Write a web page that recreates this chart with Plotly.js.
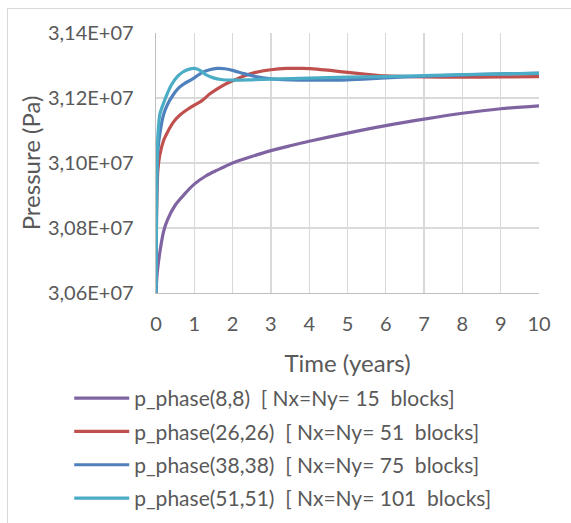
<!DOCTYPE html>
<html>
<head>
<meta charset="utf-8">
<script src="https://cdn.plot.ly/plotly-3.0.1.min.js"></script>
<style>
  html, body { margin: 0; padding: 0; background: #ffffff; }
  #frame { position: absolute; left: 7px; top: 8px; width: 600px; height: 600px; border: 1px solid #d9d9d9; }
  #chart { position: absolute; left: 0; top: 0; width: 571px; height: 523px; }
</style>
</head>
<body>
<div id="frame"></div>
<div id="chart"></div>
<script>
// Time (years) and pressure (Pa) samples
const tPurple = [0, 0.03, 0.1, 0.2, 0.3, 0.5, 0.75, 1.0, 1.3, 1.6, 2.0, 2.5, 3.0, 3.5, 4, 5, 6, 7, 8, 9, 10];
const pPurple = [3.0600e7, 3.0660e7, 3.0725e7, 3.0790e7, 3.0825e7, 3.0870e7, 3.0905e7, 3.0935e7, 3.0960e7, 3.0978e7, 3.1000e7, 3.1020e7, 3.1038e7, 3.1053e7, 3.1067e7, 3.1092e7, 3.1115e7, 3.1135e7, 3.1153e7, 3.1167e7, 3.1176e7];

const tRed = [0, 0.02, 0.05, 0.1, 0.2, 0.3, 0.45, 0.6, 0.8, 1.0, 1.2, 1.4, 1.6, 1.8, 2.0, 2.3, 2.6, 3.0, 3.4, 3.8, 4.2, 4.6, 5, 5.5, 6, 7, 8, 9, 10];
const pRed = [3.0600e7, 3.0880e7, 3.0980e7, 3.1025e7, 3.1070e7, 3.1095e7, 3.1125e7, 3.1145e7, 3.1163e7, 3.1178e7, 3.1192e7, 3.1212e7, 3.1228e7, 3.1242e7, 3.1253e7, 3.1268e7, 3.1279e7, 3.1287e7, 3.1291e7, 3.1291e7, 3.1289e7, 3.1284e7, 3.1279e7, 3.1273e7, 3.1268e7, 3.1265e7, 3.1264e7, 3.1265e7, 3.1266e7];

const tBlue = [0, 0.02, 0.05, 0.1, 0.2, 0.3, 0.45, 0.6, 0.75, 0.9, 1.0, 1.2, 1.4, 1.6, 1.8, 2.0, 2.3, 2.6, 3.0, 3.5, 4, 5, 6, 7, 8, 9, 10];
const pBlue = [3.0600e7, 3.0920e7, 3.1040e7, 3.1090e7, 3.1150e7, 3.1180e7, 3.1210e7, 3.1232e7, 3.1245e7, 3.1255e7, 3.1262e7, 3.1278e7, 3.1287e7, 3.1291e7, 3.1290e7, 3.1285e7, 3.1275e7, 3.1266e7, 3.1259e7, 3.1256e7, 3.1255e7, 3.1256e7, 3.1262e7, 3.1267e7, 3.1271e7, 3.1274e7, 3.1277e7];

const tCyan = [0, 0.02, 0.05, 0.1, 0.2, 0.3, 0.4, 0.55, 0.7, 0.85, 1.0, 1.15, 1.3, 1.5, 1.7, 2.0, 2.5, 3, 4, 5, 6, 7, 8, 9, 10];
const pCyan = [3.0600e7, 3.0950e7, 3.1085e7, 3.1150e7, 3.1185e7, 3.1215e7, 3.1240e7, 3.1265e7, 3.1280e7, 3.1288e7, 3.1291e7, 3.1285e7, 3.1272e7, 3.1262e7, 3.1257e7, 3.1255e7, 3.1256e7, 3.1258e7, 3.1261e7, 3.1264e7, 3.1266e7, 3.1269e7, 3.1272e7, 3.1274e7, 3.1276e7];

const seriesNames = [
  "p_phase(8,8)\u00a0\u00a0[ Nx=Ny= 15\u00a0\u00a0blocks]",
  "p_phase(26,26)\u00a0\u00a0[ Nx=Ny= 51\u00a0\u00a0blocks]",
  "p_phase(38,38)\u00a0\u00a0[ Nx=Ny= 75\u00a0\u00a0blocks]",
  "p_phase(51,51)\u00a0\u00a0[ Nx=Ny= 101\u00a0\u00a0blocks]"
];
const seriesColors = ["#8064A2", "#C0504D", "#4F81BD", "#4BACC6"];

const yTickVals = [3.06e7, 3.08e7, 3.10e7, 3.12e7, 3.14e7];
const yTickText = ["3,06E+07", "3,08E+07", "3,10E+07", "3,12E+07", "3,14E+07"];

const xs = [tPurple, tRed, tBlue, tCyan];
const ys = [pPurple, pRed, pBlue, pCyan];

const FONT = "Lato, 'Open Sans', sans-serif";
const TXT = "#595959";

const traces = xs.map((x, i) => ({
  x: x, y: ys[i], type: "scatter", mode: "lines",
  name: seriesNames[i], legendgroup: "g" + i,
  line: { color: seriesColors[i], width: 3.2, shape: "spline", smoothing: 0.8 }
}));

const layout = {
  width: 571, height: 523,
  margin: { l: 156, r: 32, t: 33, b: 230, autoexpand: false },
  paper_bgcolor: "rgba(0,0,0,0)",
  plot_bgcolor: "rgba(0,0,0,0)",
  font: { family: FONT, color: TXT, size: 20 },
  showlegend: true,
  legend: {
    x: -0.2266, xanchor: "left", y: -0.327, yanchor: "top",
    orientation: "v", tracegroupgap: 3, itemwidth: 55,
    font: { family: FONT, size: 21, color: TXT },
    bgcolor: "rgba(0,0,0,0)"
  },
  xaxis: {
    range: [0, 10], dtick: 1, tick0: 0,
    showgrid: true, gridcolor: "#d9d9d9", gridwidth: 1.3,
    showline: true, linecolor: "#bfbfbf", linewidth: 1.3,
    zeroline: false, ticks: "", ticklabelstandoff: 13,
    tickfont: { family: FONT, size: 20, color: TXT },
    title: { text: "Time (years)", font: { family: FONT, size: 24, color: TXT }, standoff: 21 }
  },
  yaxis: {
    range: [3.06e7, 3.14e7],
    tickmode: "array", tickvals: yTickVals, ticktext: yTickText,
    showgrid: true, gridcolor: "#d9d9d9", gridwidth: 1.3,
    showline: true, linecolor: "#bfbfbf", linewidth: 1.3,
    zeroline: false, ticks: "", ticklabelstandoff: 17,
    tickfont: { family: FONT, size: 20, color: TXT },
    title: { text: "Pressure (Pa)", font: { family: FONT, size: 24, color: TXT }, standoff: 0 }
  }
};

Plotly.newPlot("chart", traces, layout, { staticPlot: true, displayModeBar: false });
</script>
</body>
</html>
